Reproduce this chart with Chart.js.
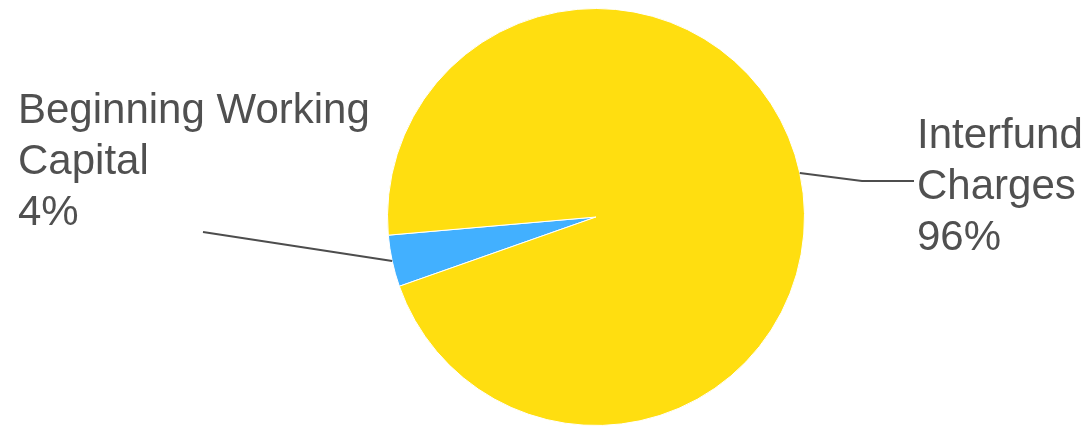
<!DOCTYPE html>
<html>
<head>
<meta charset="utf-8">
<script src="https://cdn.jsdelivr.net/npm/chart.js@4/dist/chart.umd.min.js"></script>
<style>
  html, body { margin: 0; padding: 0; background: #fff; }
  #wrap { width: 1090px; height: 427px; }
</style>
</head>
<body>
<div id="wrap"><canvas id="pie_canvas"></canvas></div>
<script>
const categories = ['Beginning Working Capital', 'Interfund Charges'];
const shares = [4, 96];
const labelLines = [['Beginning Working', 'Capital', '4%'], ['Interfund', 'Charges', '96%']];
const sliceColors = ['#42b0ff', '#ffde10'];

// where each callout's text sits and how its leader line bends
const callouts = [
    { textX: 18, firstBaseline: 123, path: [[203, 232]] },
    { textX: 917, firstBaseline: 148, path: [[862, 181], [914, 181]] }
];

const calloutPlugin = {
    id: 'callouts',
    afterDatasetsDraw(chart) {
        const ctx = chart.ctx;
        const arcs = chart.getDatasetMeta(0).data;
        ctx.save();
        arcs.forEach((arc, i) => {
            const c = callouts[i];
            const mid = (arc.startAngle + arc.endAngle) / 2;
            const r = arc.outerRadius;
            ctx.beginPath();
            ctx.moveTo(arc.x + Math.cos(mid) * r, arc.y + Math.sin(mid) * r);
            c.path.forEach(p => ctx.lineTo(p[0], p[1]));
            ctx.strokeStyle = '#4d4d4d';
            ctx.lineWidth = 2;
            ctx.stroke();

            ctx.fillStyle = '#505050';
            ctx.font = '42px "Liberation Sans", Arial, sans-serif';
            ctx.textAlign = 'left';
            ctx.textBaseline = 'alphabetic';
            labelLines[i].forEach((t, k) => {
                ctx.fillText(t, c.textX, c.firstBaseline + k * 51);
            });
        });
        ctx.restore();
    }
};

document.addEventListener('DOMContentLoaded', () => {
    const ctx = document.getElementById('pie_canvas').getContext('2d');
    new Chart(ctx, {
        type: 'pie',
        data: {
            labels: categories,
            datasets: [{
                data: shares,
                backgroundColor: sliceColors,
                borderColor: '#ffffff',
                borderWidth: 1
            }]
        },
        options: {
            responsive: true,
            maintainAspectRatio: false,
            animation: false,
            rotation: 250.6,
            layout: {
                padding: { top: 8, bottom: 1, left: 387, right: 285 }
            },
            plugins: {
                legend: { display: false },
                tooltip: { enabled: false }
            }
        },
        plugins: [calloutPlugin]
    });
});
</script>
</body>
</html>
